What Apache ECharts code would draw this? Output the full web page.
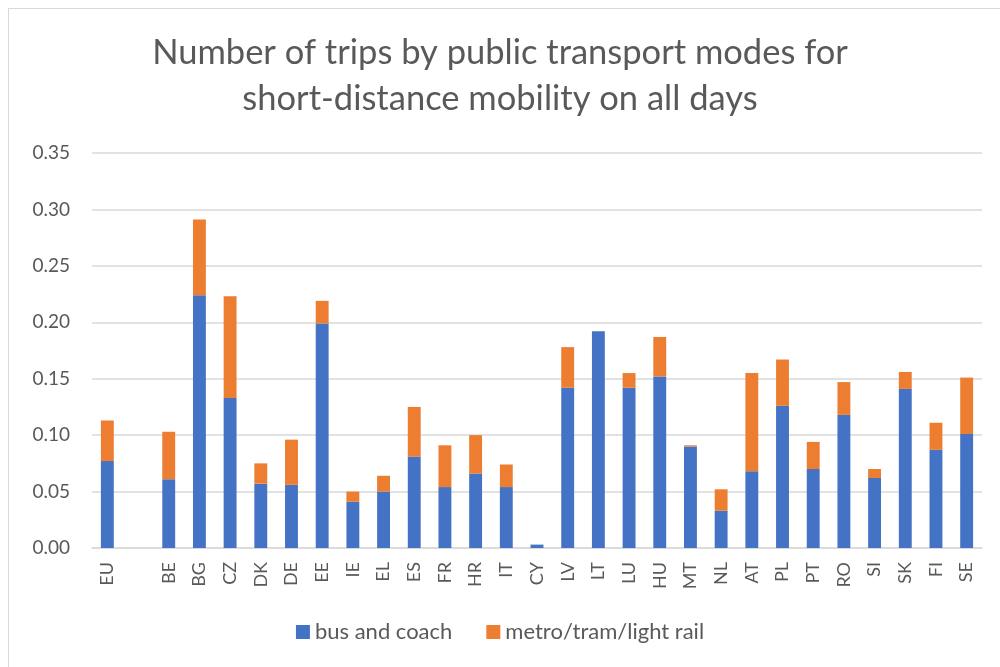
<!DOCTYPE html>
<html>
<head>
<meta charset="utf-8">
<script src="https://cdn.jsdelivr.net/npm/echarts@6/dist/echarts.min.js"></script>
<style>
  html, body { margin: 0; padding: 0; background: #fff; overflow: hidden; }
  .frame { position: absolute; left: 8px; top: 8px; width: 1000px; height: 680px;
    border-left: 1.5px solid #d9d9d9; border-top: 1.5px solid #d9d9d9; }
  #myChart { position: absolute; left: 0; top: 0; width: 1000px; height: 667px; }
</style>
</head>
<body>
<div class="frame"></div>
<div id="myChart"></div>
<script>
  var categories = ['EU', '', 'BE', 'BG', 'CZ', 'DK', 'DE', 'EE', 'IE', 'EL', 'ES', 'FR', 'HR', 'IT', 'CY',
    'LV', 'LT', 'LU', 'HU', 'MT', 'NL', 'AT', 'PL', 'PT', 'RO', 'SI', 'SK', 'FI', 'SE']
  var busCoach = [0.077, '-', 0.061, 0.224, 0.133, 0.057, 0.056, 0.199, 0.041, 0.050, 0.081, 0.054, 0.066, 0.054, 0.003,
    0.142, 0.192, 0.142, 0.152, 0.090, 0.033, 0.068, 0.126, 0.070, 0.118, 0.062, 0.141, 0.087, 0.101]
  var metroTramRail = [0.036, '-', 0.042, 0.067, 0.090, 0.018, 0.040, 0.020, 0.009, 0.014, 0.044, 0.037, 0.034, 0.020, 0.000,
    0.036, 0.000, 0.013, 0.035, 0.001, 0.019, 0.087, 0.041, 0.024, 0.029, 0.008, 0.015, 0.024, 0.050]
  var yTicks = { min: 0, max: 0.35, interval: 0.05 }

  var textColor = '#595959'
  var font = 'Lato, "Open Sans", sans-serif'
  var myChart = echarts.init(document.getElementById('myChart'))
  var option = {
    animation: false,
    color: ['#4472C4', '#ED7D31'],
    title: {
      text: 'Number of trips by public transport modes for\nshort-distance mobility on all days',
      left: 'center',
      top: 25,
      textStyle: {
        fontFamily: font,
        fontSize: 34.5,
        fontWeight: 'normal',
        color: textColor,
        lineHeight: 46
      }
    },
    legend: {
      data: ['bus and coach', 'metro/tram/light rail'],
      bottom: 19,
      left: 'center',
      icon: 'rect',
      itemWidth: 14,
      itemHeight: 14,
      itemGap: 34,
      textStyle: { fontFamily: font, fontSize: 22, color: textColor }
    },
    grid: { left: 92, right: 18, top: 153, bottom: 119, containLabel: false },
    xAxis: {
      type: 'category',
      data: categories,
      axisTick: { show: false },
      axisLine: { lineStyle: { color: '#d9d9d9', width: 1.5 } },
      axisLabel: {
        rotate: 90,
        interval: 0,
        margin: 14,
        fontFamily: font,
        fontSize: 18,
        color: textColor
      }
    },
    yAxis: {
      type: 'value',
      min: yTicks.min,
      max: yTicks.max,
      interval: yTicks.interval,
      axisLine: { show: false },
      axisTick: { show: false },
      splitLine: { lineStyle: { color: '#d9d9d9', width: 1.5 } },
      axisLabel: {
        margin: 22,
        fontFamily: font,
        fontSize: 19,
        color: textColor,
        formatter: function (v) { return v.toFixed(2) }
      }
    },
    series: [
      {
        name: 'bus and coach',
        type: 'bar',
        stack: 'trips',
        barWidth: '42%',
        data: busCoach
      },
      {
        name: 'metro/tram/light rail',
        type: 'bar',
        stack: 'trips',
        barWidth: '42%',
        data: metroTramRail
      }
    ]
  }
  myChart.setOption(option)
</script>
</body>
</html>
